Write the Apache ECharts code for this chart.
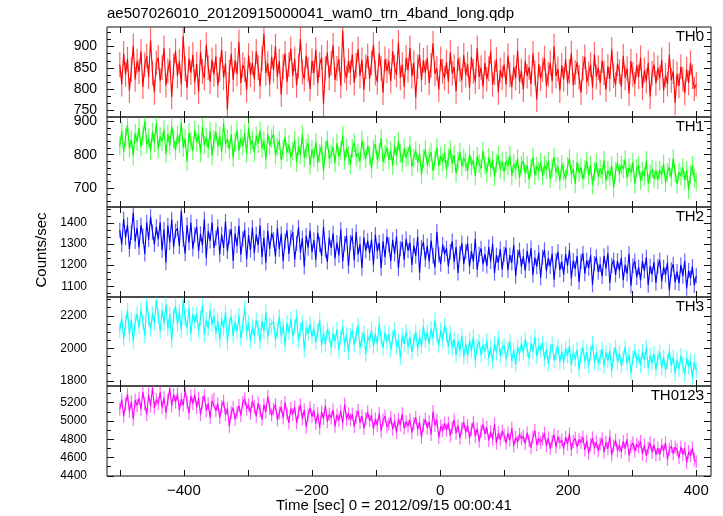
<!DOCTYPE html>
<html><head><meta charset="utf-8">
<script src="https://cdn.jsdelivr.net/npm/echarts@6/dist/echarts.min.js"></script>
<style>html,body{margin:0;padding:0;background:#fff}#c{width:723px;height:516px}</style>
</head><body><div id="c"></div>
<script>
const title = 'ae507026010_20120915000041_wam0_trn_4band_long.qdp';
const xName = 'Time [sec] 0 = 2012/09/15 00:00:41';
const yName = 'Counts/sec';
const bandNames = ['TH0', 'TH1', 'TH2', 'TH3', 'TH0123'];
const bandColors = ['#ff0000', '#00ff00', '#0000ff', '#00ffff', '#ff00ff'];
const barColors = ['rgba(255,0,0,0.6)', 'rgba(0,255,0,0.6)', 'rgba(0,0,255,0.6)', 'rgba(0,255,255,0.6)', 'rgba(255,0,255,0.6)'];
const tStart = -500, tStep = 3;
// half-length of the error bars (counts/sec)
const errBar = [29, 28, 36, 46, 71];

const th0 = [
858,812,884,835,871,797,846,902,823,866, 841,889,806,857,878,829,915,838,793,862,
874,820,851,897,809,843,868,782,855,890, 831,866,811,925,848,803,872,839,881,816,
859,794,887,842,826,904,851,818,869,835, 877,809,846,893,827,861,752,840,883,822,
868,836,911,815,857,846,798,879,834,862, 823,889,851,807,872,930,838,861,812,876,
845,901,829,866,788,853,884,817,858,895, 832,871,809,855,918,841,824,879,846,801,
867,838,893,814,858,875,766,849,886,827, 861,903,822,849,871,808,937,844,826,867,
839,882,815,856,894,831,869,799,853,878, 824,862,905,838,817,884,849,792,871,843,
866,819,889,852,834,910,827,858,806,874, 845,897,831,862,781,853,880,822,868,839,
874,815,856,908,836,849,799,871,842,826, 864,818,887,837,853,795,872,846,821,880,
833,859,803,876,842,818,897,829,851,806, 862,824,848,889,811,839,870,793,845,827,
858,811,879,834,805,852,826,891,818,843, 799,867,831,852,812,884,838,776,859,825,
846,873,808,835,862,819,901,831,848,797, 856,823,871,814,842,885,809,839,864,828,
792,849,876,817,836,858,804,882,829,851, 815,867,838,799,853,824,893,832,811,860,
841,806,878,827,849,790,866,835,812,856, 829,874,803,845,819,862,783,838,858,814,
850,826,869,797,833,812,881,821,842,768, 836,808,853,823,791,847,815,862,829,801,
812];
const th1 = [
826,871,808,852,889,819,845,797,864,838, 880,823,856,901,831,849,812,868,835,893,
817,854,839,876,802,862,828,885,846,813, 859,833,897,821,848,779,866,840,811,874,
836,861,805,883,829,852,818,871,798,845, 868,824,857,809,895,832,847,816,862,791,
838,874,812,849,826,864,803,881,829,844, 807,856,833,872,819,841,785,862,826,849,
861,799,823,842,784,816,853,806,830,791, 811,844,777,826,800,861,790,818,834,769,
816,791,838,777,804,826,752,813,844,787, 801,823,775,835,794,812,858,783,820,798,
770,818,836,793,805,780,843,811,788,827, 798,758,816,832,785,807,849,778,801,822,
784,812,767,828,795,840,803,776,819,792, 797,827,763,790,812,775,804,741,788,817,
769,792,808,751,783,821,766,796,778,805, 756,791,815,773,799,744,781,808,765,790,
776,751,802,767,784,736,795,773,758,811, 769,746,792,760,783,734,774,798,756,779,
749,781,766,798,737,773,755,789,730,768, 781,743,769,725,760,793,737,766,751,778,
736,769,755,781,727,760,793,746,765,721, 772,748,727,765,789,740,757,713,778,746,
762,726,755,781,738,768,709,750,775,733, 758,741,784,722,753,735,767,701,750,777,
743,769,757,786,731,762,745,777,712,758, 767,722,750,735,783,714,744,757,727,752,
725,754,739,772,716,747,763,731,789,744, 712,748,736,761,723,752,695,741,768,729,
718];
const th2 = [
1365,1298,1418,1330,1391,1275,1355,1448,1312,1377, 1284,1389,1337,1253,1402,1320,1428,1357,1298,1381,
1323,1402,1270,1369,1212,1388,1307,1416,1286,1361, 1374,1289,1456,1323,1254,1390,1306,1402,1277,1343,
1382,1266,1348,1293,1418,1234,1361,1315,1403,1281, 1328,1381,1250,1346,1281,1407,1265,1335,1369,1219,
1349,1292,1386,1249,1324,1367,1227,1342,1271,1378, 1256,1346,1294,1387,1239,1329,1211,1363,1277,1352,
1320,1241,1376,1275,1348,1218,1313,1365,1253,1330, 1355,1226,1303,1379,1260,1327,1192,1340,1282,1364,
1261,1318,1226,1353,1297,1243,1381,1272,1215,1330, 1281,1351,1232,1307,1246,1368,1217,1302,1339,1195,
1307,1338,1223,1356,1249,1299,1186,1331,1267,1316, 1257,1321,1202,1344,1265,1306,1186,1313,1237,1335,
1296,1218,1320,1253,1335,1184,1278,1309,1225,1324, 1268,1306,1201,1292,1243,1334,1164,1283,1309,1226,
1291,1217,1316,1244,1189,1358,1248,1205,1297,1252, 1279,1194,1264,1313,1215,1285,1163,1256,1304,1206,
1264,1303,1193,1267,1216,1324,1178,1251,1279,1204, 1252,1196,1285,1217,1301,1162,1247,1210,1276,1179,
1251,1282,1176,1247,1211,1296,1148,1238,1271,1193, 1241,1174,1268,1209,1280,1153,1236,1193,1259,1141,
1237,1272,1171,1233,1194,1254,1131,1220,1263,1177, 1217,1155,1252,1197,1270,1137,1221,1182,1243,1120,
1217,1256,1159,1223,1186,1248,1107,1207,1239,1167, 1204,1147,1244,1184,1257,1115,1199,1224,1154,1220,
1174,1235,1129,1202,1159,1254,1102,1197,1219,1142, 1191,1127,1220,1172,1237,1105,1195,1156,1214,1115,
1194,1223,1123,1189,1154,1211,1081,1178,1204,1118, 1169,1114,1201,1148,1219,1091,1174,1138,1193,1104,
1150];
const th3 = [
2112,2187,2059,2159,2233,2088,2176,2041,2165,2211, 2131,2237,2162,2078,2283,2182,2117,2214,2154,2296,
2196,2107,2234,2155,2268,2119,2211,2048,2202,2259, 2148,2225,2111,2297,2183,2126,2246,2089,2208,2163,
2213,2108,2186,2261,2082,2177,2123,2236,2146,2200, 2093,2166,2052,2181,2124,2223,2038,2149,2195,2076,
2163,2102,2201,2061,2144,2249,2094,2158,2046,2133, 2074,2174,2121,2043,2167,2102,2222,2069,2144,2133,
2163,2050,2111,2195,2074,2138,2019,2156,2097,2180, 2073,2133,2196,2045,2115,2158,1991,2125,2090,2149,
2072,2123,2037,2109,2172,2019,2096,2026,2117,2081, 2004,2092,2046,2117,1991,2069,2133,2022,2086,1977,
2078,2111,2021,2084,2141,2004,2056,2096,1965,2073, 2046,2114,2014,2086,2027,2153,2062,2003,2098,2039,
2088,1990,2066,2115,2009,2049,1944,2081,2028,2104, 2008,2069,1979,2046,2101,1997,2073,2014,2137,2047,
2099,2027,2121,2062,2176,2079,2019,2114,2048,2141, 2083,2009,2096,2002,2057,1961,2046,1988,2078,1946,
2028,1951,2051,1986,2072,1924,2013,2043,1959,2020, 1981,2049,1940,2007,1920,2030,1972,2064,1955,2002,
2017,1935,1995,2042,1924,1991,1899,2009,1966,2031, 1972,2057,1994,1934,2034,1981,2071,1953,2016,1989,
2033,1934,1996,1907,1981,2027,1926,1973,2012,1917, 1981,1915,2000,1954,2016,1896,1976,1933,1995,1871,
1960,2007,1920,1979,1894,1969,2031,1915,1974,1907, 1946,1996,1891,1976,1923,1988,1866,1963,2006,1914,
1972,1896,1942,2009,1907,1966,1849,1940,1986,1924, 1954,1896,1981,1925,2006,1882,1957,1911,1967,1869,
1942,1976,1882,1949,1865,1919,1985,1896,1947,1847, 1928,1873,1956,1899,1839,1944,1886,1922,1821,1918,
1862];
const th0123 = [
5129,5232,5052,5184,5291,5104,5209,5018,5226,5168, 5248,5128,5317,5187,5070,5291,5164,5363,5143,5234,
5191,5312,5146,5253,5089,5228,5357,5164,5289,5207, 5296,5117,5237,5172,5333,5204,5083,5272,5188,5284,
5146,5249,5068,5203,5278,5111,5189,5034,5221,5237, 5108,5186,5034,5159,5217,5067,5138,4943,5089,5144,
5016,5093,5168,5059,5203,5242,5131,5177,5082,5216, 5152,5052,5196,5111,5017,5177,5099,5269,5138,5064,
5128,5179,5012,5087,5154,5033,5203,5078,4979,5137, 5071,5152,4977,5096,5176,5022,5121,4931,5063,5144,
5049,5113,4973,5082,4924,5099,5024,5167,4992,5074, 5032,5121,4941,5066,5006,5107,4974,5182,5021,5078,
5012,5077,4938,5044,5113,4979,5056,4916,5023,5098, 4998,5059,4912,5021,4953,5081,4887,5009,5054,4934,
4967,5037,4909,5002,4874,5021,4956,5078,4919,4991, 4943,5013,4872,4972,5039,4906,4987,4821,4956,5021,
4924,4991,4851,5103,4951,5009,4818,4944,4892,4973, 4901,4976,4839,4928,5012,4866,4948,4814,4919,4987,
4874,4953,4812,4907,4986,4831,4918,4777,4888,4962, 4859,4928,4787,4884,4801,4966,4758,4871,4794,4889,
4846,4758,4867,4789,4922,4726,4823,4769,4856,4804, 4834,4752,4871,4783,4708,4823,4896,4737,4809,4764,
4803,4867,4726,4816,4698,4777,4849,4714,4827,4761, 4791,4697,4822,4746,4859,4684,4776,4811,4713,4798,
4764,4823,4682,4782,4647,4741,4814,4703,4772,4674, 4751,4806,4658,4767,4696,4833,4628,4729,4788,4676,
4733,4661,4776,4698,4798,4623,4719,4762,4669,4744, 4714,4776,4636,4737,4617,4703,4761,4656,4739,4629,
4702,4632,4736,4674,4762,4579,4691,4724,4641,4714, 4687,4597,4716,4634,4699,4543,4664,4621,4702,4576,
4555];

const xTicks = [-500, -400, -300, -200, -100, 0, 100, 200, 300, 400];
const xLabels = [-400, -200, 0, 200, 400];
const yMajor = [[750, 800, 850, 900], [700, 800, 900], [1100, 1200, 1300, 1400], [1800, 2000, 2200], [4400, 4600, 4800, 5000, 5200]];
const yRange = [[735, 946], [643, 913], [1049, 1475], [1770, 2315], [4398, 5382]];
const yMinorStep = [50 / 3, 20, 100 / 3, 50, 100];
const seriesData = [th0, th1, th2, th3, th0123];

// layout (pixels)
const L = 107, W = 604;
const tops = [27, 117, 207, 297, 386];
const heights = [90, 90, 90, 89, 90];
const labelSize = [14, 14, 12, 12, 12];
const FONT = 'Liberation Sans, Arial, sans-serif';

function minorVals(i) {
  const [mn, mx] = yRange[i], s = yMinorStep[i];
  const out = [];
  for (let k = Math.ceil(mn / s - 1e-9); k * s <= mx; k++) {
    const v = k * s;
    if (!yMajor[i].some(m => Math.abs(m - v) < 1e-6)) out.push(v);
  }
  return out;
}

const grid = [], xAxis = [], yAxis = [], series = [], graphic = [];
for (let i = 0; i < 5; i++) {
  grid.push({ left: L, top: tops[i], width: W, height: heights[i], show: true, borderColor: '#111', borderWidth: 1, backgroundColor: 'transparent' });
  const baseX = { gridIndex: i, type: 'value', min: -520, max: 423, axisLine: { show: false, onZero: false }, splitLine: { show: false } };
  const xb = xAxis.length;
  xAxis.push(Object.assign({}, baseX, {
    position: 'bottom',
    axisTick: { inside: true, length: 6, customValues: xTicks, lineStyle: { color: '#111', width: 1 } },
    axisLabel: { show: i === 4, customValues: xLabels, margin: 7, fontSize: 15, fontFamily: FONT, color: '#000',
      formatter: v => String(v).replace('-', '\u2212') }
  }));
  xAxis.push(Object.assign({}, baseX, {
    position: 'top',
    axisTick: { inside: true, length: 6, customValues: xTicks, lineStyle: { color: '#111', width: 1 } },
    axisLabel: { show: false }
  }));
  const baseY = { gridIndex: i, type: 'value', min: yRange[i][0], max: yRange[i][1], axisLine: { show: false, onZero: false }, splitLine: { show: false } };
  const minors = minorVals(i);
  const y0 = yAxis.length;
  yAxis.push(Object.assign({}, baseY, {
    position: 'left',
    axisTick: { inside: true, length: 7, customValues: yMajor[i], lineStyle: { color: '#111' } },
    axisLabel: { customValues: yMajor[i], margin: i < 2 ? 10 : 20, fontSize: labelSize[i], fontFamily: FONT, color: '#000',
      formatter: v => String(v) }
  }));
  yAxis.push(Object.assign({}, baseY, {
    position: 'left',
    axisTick: { inside: true, length: 4, customValues: minors, lineStyle: { color: '#111' } },
    axisLabel: { show: false }
  }));
  yAxis.push(Object.assign({}, baseY, {
    position: 'right',
    axisTick: { inside: true, length: 7, customValues: yMajor[i], lineStyle: { color: '#111' } },
    axisLabel: { show: false }
  }));
  yAxis.push(Object.assign({}, baseY, {
    position: 'right',
    axisTick: { inside: true, length: 4, customValues: minors, lineStyle: { color: '#111' } },
    axisLabel: { show: false }
  }));
  const pts = seriesData[i].map((v, k) => [tStart + k * tStep, v, errBar[i]]);
  const barColor = barColors[i];
  series.push({
    type: 'custom', xAxisIndex: xb, yAxisIndex: y0, clip: true, silent: true, animation: false,
    data: pts,
    encode: { x: 0, y: 1 },
    renderItem: (params, api) => {
      const t = api.value(0), v = api.value(1), e = api.value(2);
      const p1 = api.coord([t, v - e]), p2 = api.coord([t, v + e]);
      return { type: 'line', shape: { x1: p1[0], y1: p1[1], x2: p2[0], y2: p2[1] },
        style: { stroke: barColor, lineWidth: 1.2 } };
    }
  });
  series.push({
    type: 'line', xAxisIndex: xb, yAxisIndex: y0, showSymbol: false, symbol: 'none',
    silent: true, animation: false, clip: true,
    lineStyle: { color: bandColors[i], width: 1.1 },
    data: pts.map(p => [p[0], p[1]])
  });
  graphic.push({ type: 'text', right: 723 - 704, top: tops[i] + 2,
    style: { text: bandNames[i], font: '15px ' + FONT, fill: '#000', textAlign: 'right' } });
}
graphic.push({ type: 'text', left: 107, top: 6, style: { text: title, font: '15px ' + FONT, fill: '#000' } });
graphic.push({ type: 'text', left: 276, top: 498, style: { text: xName, font: '15px ' + FONT, fill: '#000' } });
graphic.push({ type: 'text', x: 42, y: 250, rotation: Math.PI / 2,
  style: { text: yName, font: '15px ' + FONT, fill: '#000', textAlign: 'center', textVerticalAlign: 'middle' } });

const chart = echarts.init(document.getElementById('c'), null, { renderer: 'canvas' });
chart.setOption({ animation: false, backgroundColor: '#fff', grid, xAxis, yAxis, series, graphic });
</script>
</body></html>
